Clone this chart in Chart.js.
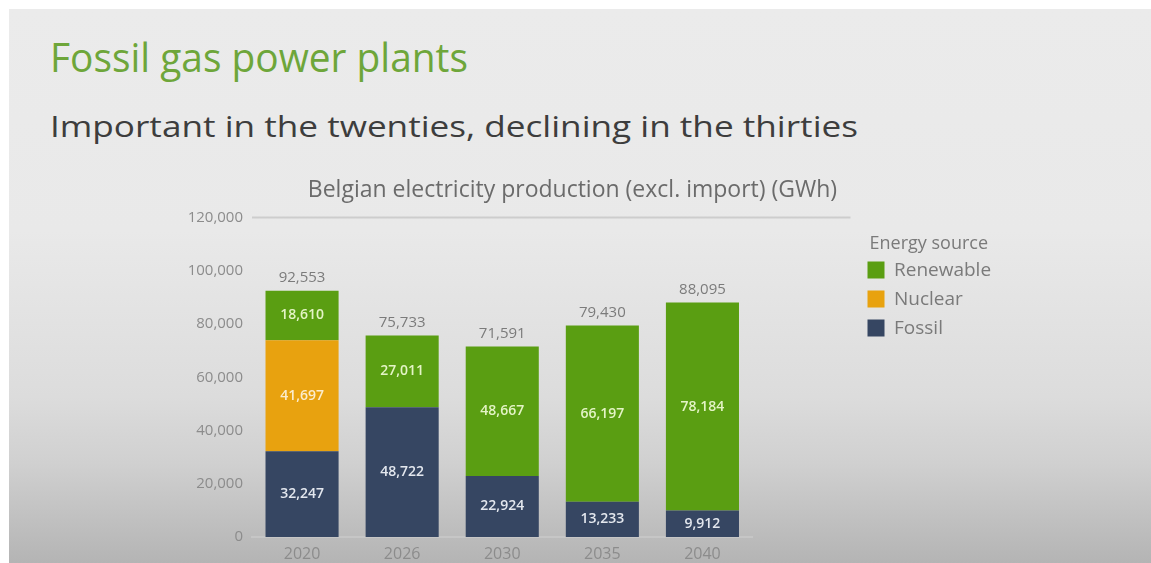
<!DOCTYPE html>
<html>
<head>
<meta charset="utf-8">
<script src="https://cdn.jsdelivr.net/npm/chart.js@4.4.1/dist/chart.umd.min.js"></script>
<style>
  html, body { margin: 0; padding: 0; background: #fff; }
  body { width: 1151px; height: 563px; position: relative; overflow: hidden; font-family: 'Open Sans', sans-serif; }
  .slide { position: absolute; left: 9px; top: 9px; right: 0; bottom: 0;
    background: linear-gradient(to bottom, #ebebeb 0%, #e9e9e9 40%, #e4e4e4 52%, #dcdcdc 70%, #d0d0d0 82%, #b4b4b4 100%); }
  .title, .subtitle { position: absolute; left: 50px; white-space: nowrap; line-height: 1; transform-origin: 0 50%; }
  .title { top: 37px; font-size: 40px; color: #6ea63a; }
  .subtitle { top: 111px; font-size: 30px; color: #3d3d3d; }
  .chart-box { position: absolute; left: 145px; top: 165px; width: 862px; height: 398px; }
</style>
</head>
<body>
<div class="slide"></div>
<div class="title">Fossil gas power plants</div>
<div class="subtitle">Important in the twenties, declining in the thirties</div>
<div class="chart-box"><canvas id="chart"></canvas></div>
<script>
const years = ['2020', '2026', '2030', '2035', '2040'];
const fossil = [32247, 48722, 22924, 13233, 9912];
const nuclear = [41697, 0, 0, 0, 0];
const renewable = [18610, 27011, 48667, 66197, 78184];
const totals = [92553, 75733, 71591, 79430, 88095];
const yTicks = [0, 20000, 40000, 60000, 80000, 100000, 120000];

const fmt = v => v.toLocaleString('en-US');

// stretch the slide headings to the width they have on the slide
function fitWidth(el, w) {
    const r = el.getBoundingClientRect().width;
    el.style.transform = 'scaleX(' + (w / r) + ')';
}
fitWidth(document.querySelector('.title'), 418);
fitWidth(document.querySelector('.subtitle'), 808);

// numbers inside the bars, totals above the stacks
const barLabels = {
    id: 'barLabels',
    afterDatasetsDraw(chart) {
        const ctx = chart.ctx;
        ctx.save();
        ctx.textAlign = 'center';
        ctx.textBaseline = 'middle';
        chart.data.datasets.forEach((ds, i) => {
            chart.getDatasetMeta(i).data.forEach((bar, j) => {
                const v = ds.data[j];
                if (!v) return;
                ctx.font = '600 14px "Open Sans"';
                ctx.fillStyle = ds.labelColor;
                ctx.fillText(fmt(v), bar.x, (bar.y + bar.base) / 2);
            });
        });
        const y = chart.scales.y;
        const bars = chart.getDatasetMeta(0).data;
        ctx.font = '15px "Open Sans"';
        ctx.fillStyle = '#7b7b7b';
        totals.forEach((t, j) => {
            ctx.fillText(fmt(t), bars[j].x, y.getPixelForValue(t) - 13);
        });
        ctx.restore();
    }
};

// grey rule under the chart title
const titleRule = {
    id: 'titleRule',
    beforeDatasetsDraw(chart) {
        const { ctx, chartArea, legend } = chart;
        ctx.save();
        ctx.strokeStyle = '#cdcdcd';
        ctx.lineWidth = 2;
        ctx.beginPath();
        ctx.moveTo(chartArea.left, chartArea.top);
        ctx.lineTo(legend.left - 7, chartArea.top);
        ctx.stroke();
        ctx.restore();
    }
};

Chart.defaults.font.family = '"Open Sans", sans-serif';

new Chart(document.getElementById('chart'), {
    type: 'bar',
    data: {
        labels: years,
        datasets: [
            { label: 'Fossil', data: fossil, backgroundColor: '#364662', labelColor: '#e3e7ee' },
            { label: 'Nuclear', data: nuclear, backgroundColor: '#e8a20f', labelColor: '#fbeccd' },
            { label: 'Renewable', data: renewable, backgroundColor: '#5a9e12', labelColor: '#e4f4c6' }
        ]
    },
    options: {
        responsive: true,
        maintainAspectRatio: false,
        animation: false,
        layout: { padding: { right: 7 } },
        datasets: { bar: { barPercentage: 0.73, categoryPercentage: 1 } },
        plugins: {
            title: {
                display: true,
                text: 'Belgian electricity production (excl. import) (GWh)',
                color: '#6b6b6b',
                font: { size: 23, weight: 'normal' },
                padding: { top: 12, bottom: 13 }
            },
            legend: {
                position: 'right',
                align: 'start',
                reverse: true,
                title: {
                    display: true,
                    text: 'Energy source',
                    color: '#7a7a7a',
                    font: { size: 18 },
                    padding: { top: 70, bottom: -6 }
                },
                labels: {
                    color: '#7a7a7a',
                    boxWidth: 17,
                    boxHeight: 17,
                    padding: 10,
                    font: { size: 19 }
                }
            },
            tooltip: { enabled: false }
        },
        scales: {
            x: {
                stacked: true,
                grid: { display: false, drawTicks: false },
                border: { color: '#c6c6c6', width: 2 },
                ticks: { color: '#8c8c8c', font: { size: 16 }, padding: 8 },
                afterFit: s => { s.height = 26; }
            },
            y: {
                stacked: true,
                min: 0,
                max: 120000,
                grid: { display: false, drawTicks: false },
                border: { display: false },
                ticks: { color: '#8c8c8c', font: { size: 15 }, padding: 9, callback: v => fmt(v) },
                afterBuildTicks: s => { s.ticks = yTicks.map(v => ({ value: v })); },
                afterFit: s => { s.width = 107; }
            },
            gap: {
                position: 'right',
                grid: { display: false },
                border: { display: false },
                ticks: { display: false },
                afterFit: s => { s.width = 105; }
            }
        }
    },
    plugins: [titleRule, barLabels]
});
</script>
</body>
</html>
